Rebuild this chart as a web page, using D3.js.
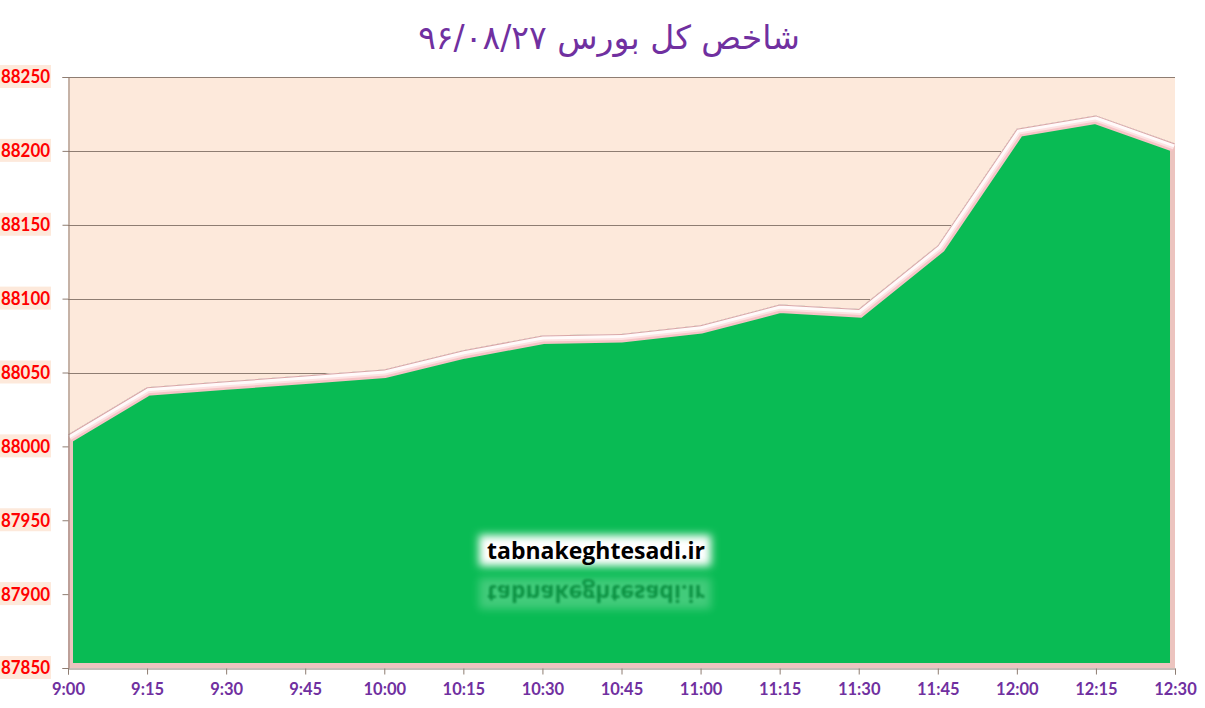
<!DOCTYPE html>
<html>
<head>
<meta charset="utf-8">
<script src="https://cdn.jsdelivr.net/npm/d3@7"></script>
<style>
  body { margin: 0; background: #fff; }
</style>
</head>
<body>
<div id="chart"></div>
<script>
// data
var times = ["9:00","9:15","9:30","9:45","10:00","10:15","10:30","10:45","11:00","11:15","11:30","11:45","12:00","12:15","12:30"];
var values = [88008, 88040, 88044, 88048, 88052, 88065, 88075, 88076, 88082, 88096, 88093, 88136, 88215, 88224, 88205];
var yTicks = [87850, 87900, 87950, 88000, 88050, 88100, 88150, 88200, 88250];
var title = "شاخص کل بورس ۹۶/۰۸/۲۷";
var watermark = "tabnakeghtesadi.ir";

var data = times.map(function(t, i) { return {time: t, value: values[i]}; });

var width = 1205, height = 708;
var margin = {top: 77, right: 30, bottom: 40, left: 68};

var svg = d3.select("#chart")
  .append("svg")
    .attr("width", width)
    .attr("height", height);

var defs = svg.append("defs");

// scales
var x = d3.scalePoint()
  .domain(times)
  .range([margin.left, width - margin.right]);

var y = d3.scaleLinear()
  .domain([87850, 88250])
  .range([height - margin.bottom, margin.top]);

// plot background
svg.append("rect")
  .attr("x", margin.left)
  .attr("y", y(88250))
  .attr("width", x(times[times.length - 1]) - margin.left)
  .attr("height", y(87850) - y(88250))
  .attr("fill", "#fde9db");

// grid lines
svg.append("g")
  .selectAll("line")
  .data(yTicks.slice(1))
  .enter()
  .append("line")
    .attr("x1", margin.left)
    .attr("x2", x(times[times.length - 1]))
    .attr("y1", function(d) { return Math.round(y(d)) + 0.5; })
    .attr("y2", function(d) { return Math.round(y(d)) + 0.5; })
    .attr("stroke", "#8e7d72")
    .attr("stroke-width", 1);

// area
var area = d3.area()
  .x(function(d) { return x(d.time); })
  .y0(y(87850))
  .y1(function(d) { return y(d.value); });

var line = d3.line()
  .x(function(d) { return x(d.time); })
  .y(function(d) { return y(d.value); });

defs.append("clipPath")
  .attr("id", "areaClip")
  .append("path")
    .attr("d", area(data));

svg.append("path")
  .attr("d", area(data))
  .attr("fill", "#09bb54");

var edge = svg.append("g").attr("clip-path", "url(#areaClip)");

// pinkish frame on all sides
edge.append("path")
  .attr("d", area(data))
  .attr("fill", "none")
  .attr("stroke", "#ecc4bf")
  .attr("stroke-width", 10);

// bevel on the top edge
edge.append("path")
  .attr("d", line(data))
  .attr("fill", "none")
  .attr("stroke", "#f6c4c6")
  .attr("stroke-width", 17);
edge.append("path")
  .attr("d", line(data))
  .attr("fill", "none")
  .attr("stroke", "#fde2e2")
  .attr("stroke-width", 12);
edge.append("path")
  .attr("d", line(data))
  .attr("fill", "none")
  .attr("stroke", "#fffafa")
  .attr("stroke-width", 8);
edge.append("path")
  .attr("d", line(data))
  .attr("fill", "none")
  .attr("stroke", "#d9a6a6")
  .attr("stroke-width", 2);

// Y axis
var yAxis = svg.append("g")
  .attr("transform", "translate(" + (margin.left + 0.5) + ",0)")
  .call(d3.axisLeft(y).tickValues(yTicks).tickSize(6).tickFormat(d3.format("d")));
yAxis.select(".domain").attr("stroke", "#8e7d72");
yAxis.selectAll(".tick line").attr("stroke", "#8e7d72");
yAxis.selectAll(".tick text").remove();

// y labels with peach boxes
var yLab = svg.append("g")
  .selectAll("g")
  .data(yTicks)
  .enter()
  .append("g")
    .attr("transform", function(d) { return "translate(0," + y(d) + ")"; });
yLab.append("rect")
  .attr("x", 0)
  .attr("y", -12)
  .attr("width", 51)
  .attr("height", 23)
  .attr("fill", "#fde9db");
yLab.append("text")
  .attr("x", 1)
  .attr("y", 0)
  .attr("dy", "0.36em")
  .attr("text-anchor", "start")
  .attr("textLength", 49)
  .attr("lengthAdjust", "spacingAndGlyphs")
  .style("font-family", "Lato, 'Open Sans', sans-serif")
  .style("font-weight", "bold")
  .style("font-size", "18px")
  .attr("fill", "#ff0000")
  .text(function(d) { return d; });

// X axis
var xAxis = svg.append("g")
  .attr("transform", "translate(0," + (y(87850) + 0.5) + ")")
  .call(d3.axisBottom(x).tickSize(6).tickPadding(9));
xAxis.select(".domain").attr("stroke", "#8e7d72");
xAxis.selectAll(".tick line").attr("stroke", "#8e7d72");
xAxis.selectAll(".tick text")
  .style("font-family", "Lato, 'Open Sans', sans-serif")
  .style("font-weight", "bold")
  .style("font-size", "16.5px")
  .attr("fill", "#7030a0");

// title
svg.append("text")
  .attr("x", 609)
  .attr("y", 49)
  .attr("text-anchor", "middle")
  .attr("direction", "rtl")
  .style("font-family", "'DejaVu Sans', sans-serif")
  .style("font-size", "33px")
  .attr("fill", "#7030a0")
  .text(title);

// watermark with glow and reflection
var glow = defs.append("filter").attr("id", "glow")
  .attr("x", "-20%").attr("y", "-50%").attr("width", "140%").attr("height", "200%");
glow.append("feGaussianBlur").attr("stdDeviation", 4);

var soft = defs.append("filter").attr("id", "soft");
soft.append("feGaussianBlur").attr("stdDeviation", 0.8);

var wm = svg.append("g");
wm.append("rect")
  .attr("x", 479)
  .attr("y", 535)
  .attr("width", 232)
  .attr("height", 31)
  .attr("fill", "#ffffff")
  .attr("filter", "url(#glow)");
wm.append("text")
  .attr("x", 596)
  .attr("y", 559)
  .attr("text-anchor", "middle")
  .style("font-family", "'Open Sans', sans-serif")
  .style("font-weight", "bold")
  .style("font-size", "23px")
  .attr("fill", "#000")
  .text(watermark);

// mirrored copy
var refl = svg.append("g")
  .attr("transform", "translate(0," + (2 * 572) + ") scale(1,-1)")
  .attr("opacity", 0.5);
refl.append("rect")
  .attr("x", 479)
  .attr("y", 535)
  .attr("width", 232)
  .attr("height", 31)
  .attr("fill", "#c8f2d6")
  .attr("opacity", 0.6)
  .attr("filter", "url(#glow)");
refl.append("text")
  .attr("x", 596)
  .attr("y", 559)
  .attr("text-anchor", "middle")
  .style("font-family", "'Open Sans', sans-serif")
  .style("font-weight", "bold")
  .style("font-size", "23px")
  .attr("fill", "#0b6a33")
  .attr("filter", "url(#soft)")
  .text(watermark);
</script>
</body>
</html>
